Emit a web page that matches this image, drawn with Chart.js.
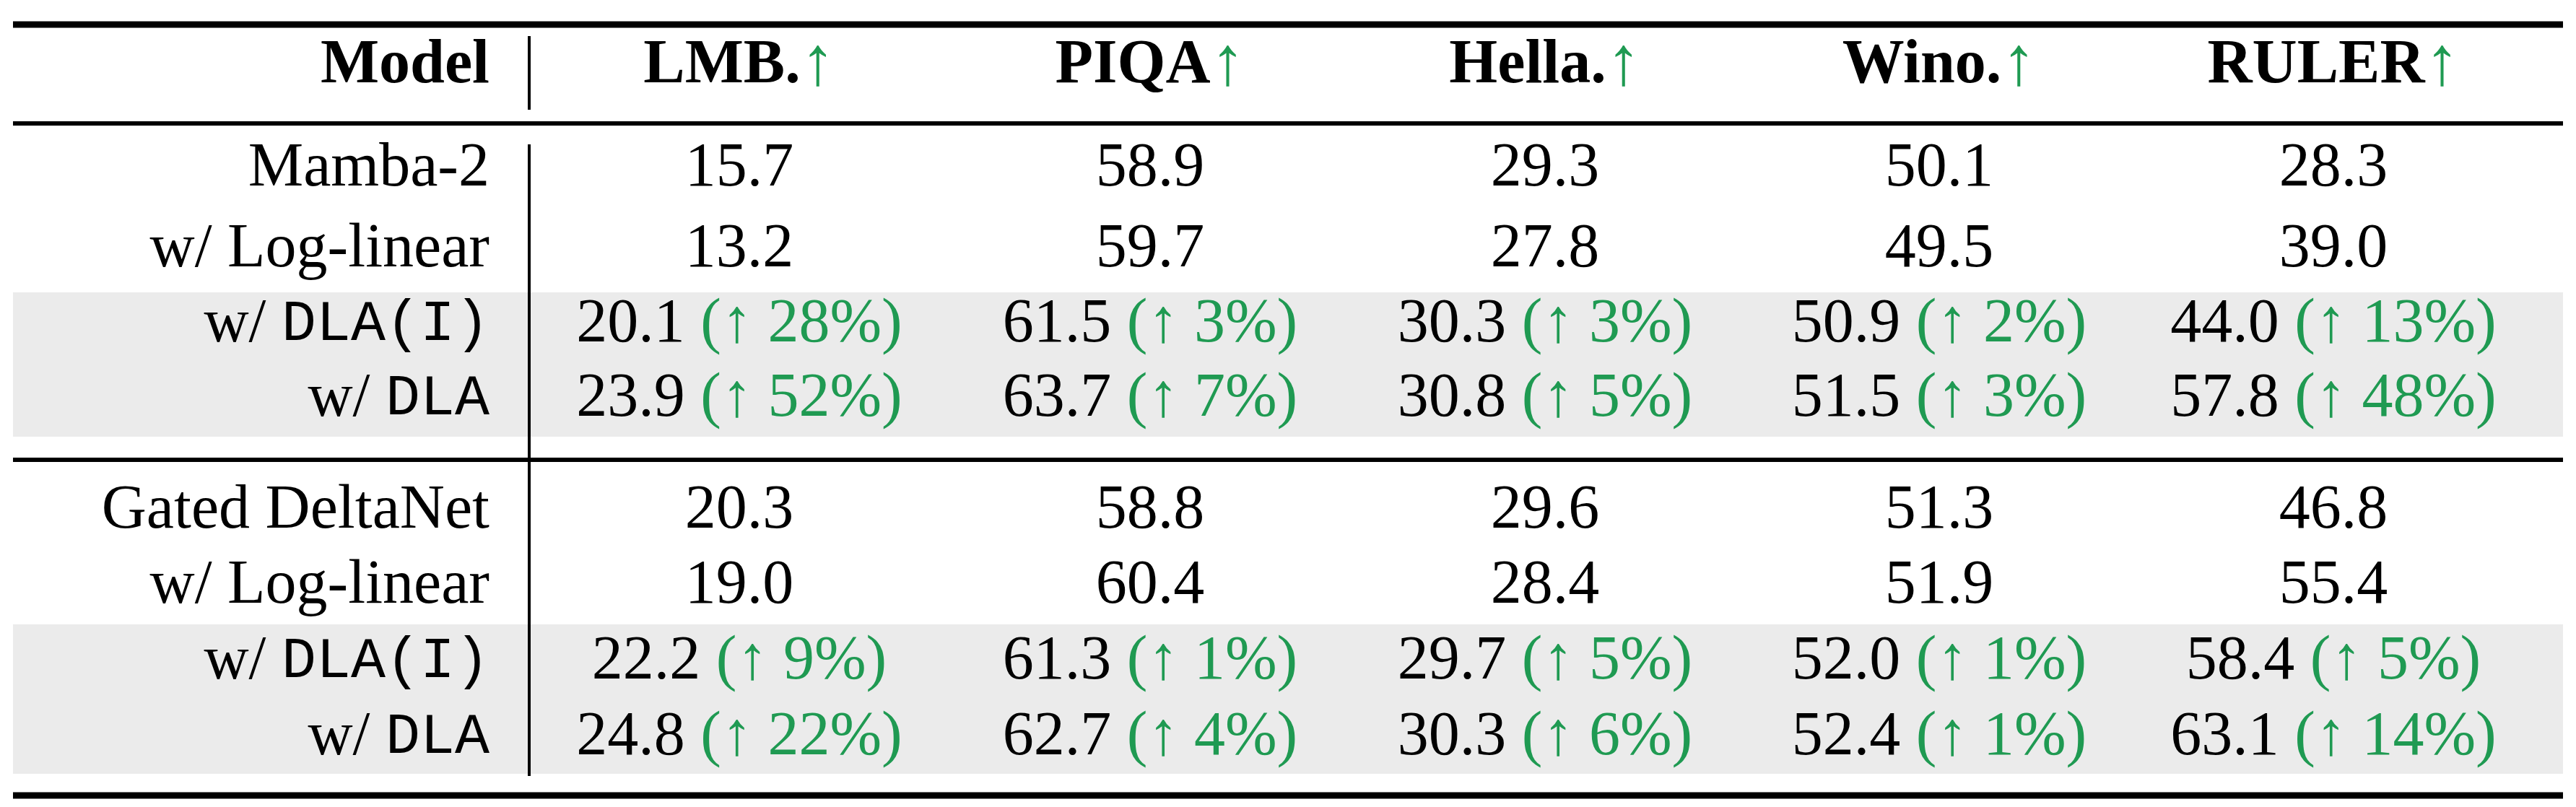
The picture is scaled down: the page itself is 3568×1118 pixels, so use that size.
<!DOCTYPE html>
<html>
<head>
<meta charset="utf-8">
<script src="https://cdn.jsdelivr.net/npm/chart.js@4.4.1/dist/chart.umd.min.js"></script>
<style>
  html, body { margin: 0; padding: 0; background: #fff; }
  #wrap { width: 3568px; height: 1118px; }
</style>
</head>
<body>
<div id="wrap"><canvas id="table"></canvas></div>
<script>
// --- data ---
const columns = ['LMB.', 'PIQA', 'Hella.', 'Wino.', 'RULER'];
const models1 = ['Mamba-2', 'w/ Log-linear', 'w/ DLA(I)', 'w/ DLA'];
const models2 = ['Gated DeltaNet', 'w/ Log-linear', 'w/ DLA(I)', 'w/ DLA'];
const mamba = [15.7, 58.9, 29.3, 50.1, 28.3];
const mambaLog = [13.2, 59.7, 27.8, 49.5, 39.0];
const mambaDlaI = [20.1, 61.5, 30.3, 50.9, 44.0];
const mambaDla = [23.9, 63.7, 30.8, 51.5, 57.8];
const mambaDlaIGain = [28, 3, 3, 2, 13];
const mambaDlaGain = [52, 7, 5, 3, 48];
const gdn = [20.3, 58.8, 29.6, 51.3, 46.8];
const gdnLog = [19.0, 60.4, 28.4, 51.9, 55.4];
const gdnDlaI = [22.2, 61.3, 29.7, 52.0, 58.4];
const gdnDla = [24.8, 62.7, 30.3, 52.4, 63.1];
const gdnDlaIGain = [9, 1, 5, 1, 5];
const gdnDlaGain = [22, 4, 6, 1, 14];

// --- layout (scale units) ---
const colX = [1024, 1593, 2140, 2686, 3232];
const modelRight = 678;
const sepX = 733;
const headerY = 92;
const rowY = [234, 346, 450, 553, 708, 812, 917, 1022];
const bands = [[405, 605], [865, 1072]];
const rules = [[34, 9], [171, 6], [637, 6], [1102, 9]];
const GREEN = '#1f9a52';
const SERIF = '"Liberation Serif", "DejaVu Serif", serif';
const MONO = '"Liberation Mono", "DejaVu Sans Mono", monospace';
const FS = 86;

const rows = [
  { model: models1[0], vals: mamba },
  { model: models1[1], vals: mambaLog },
  { model: models1[2], vals: mambaDlaI, gain: mambaDlaIGain, band: true },
  { model: models1[3], vals: mambaDla, gain: mambaDlaGain, band: true },
  { model: models2[0], vals: gdn },
  { model: models2[1], vals: gdnLog },
  { model: models2[2], vals: gdnDlaI, gain: gdnDlaIGain, band: true },
  { model: models2[3], vals: gdnDla, gain: gdnDlaGain, band: true }
];

function drawRuns(ctx, runs, x, y, align) {
  let w = 0;
  runs.forEach(r => { ctx.font = r.font; w += ctx.measureText(r.text).width; });
  let cx = align === 'right' ? x - w : x - w / 2;
  ctx.textAlign = 'left';
  ctx.textBaseline = 'middle';
  runs.forEach(r => {
    ctx.font = r.font;
    ctx.fillStyle = r.color || '#000';
    ctx.fillText(r.text, cx, y);
    cx += ctx.measureText(r.text).width;
  });
}

function modelRuns(name) {
  const f = FS + 'px ' + SERIF;
  if (name.startsWith('w/ DLA')) {
    return [{ text: 'w/ ', font: f }, { text: name.slice(3), font: (FS - 6) + 'px ' + MONO }];
  }
  return [{ text: name, font: f }];
}

const tablePlugin = {
  id: 'tablePlugin',
  afterDraw(chart) {
    const ctx = chart.ctx;
    const sx = chart.scales.x, sy = chart.scales.y;
    const X = v => sx.getPixelForValue(v);
    const Y = v => sy.getPixelForValue(v);
    ctx.save();
    // grey bands
    ctx.fillStyle = '#ebebeb';
    bands.forEach(b => ctx.fillRect(X(18), Y(b[0]), X(3550) - X(18), Y(b[1]) - Y(b[0])));
    // horizontal rules
    ctx.fillStyle = '#000';
    rules.forEach(r => ctx.fillRect(X(18), Y(r[0]) - r[1] / 2, X(3550) - X(18), r[1]));
    // vertical separator
    ctx.fillRect(X(sepX) - 2, Y(50), 4, Y(152) - Y(50));
    ctx.fillRect(X(sepX) - 2, Y(200), 4, Y(1075) - Y(200));
    // header
    const bold = 'bold ' + FS + 'px ' + SERIF;
    drawRuns(ctx, [{ text: 'Model', font: bold }], X(modelRight), Y(headerY), 'right');
    columns.forEach((c, i) => {
      drawRuns(ctx, [{ text: c, font: bold }, { text: '↑', font: (FS + 10) + 'px ' + SERIF, color: GREEN }], X(colX[i]), Y(headerY), 'center');
    });
    // body
    const f = FS + 'px ' + SERIF;
    rows.forEach((row, ri) => {
      const y = Y(rowY[ri]);
      drawRuns(ctx, modelRuns(row.model), X(modelRight), y, 'right');
      row.vals.forEach((v, ci) => {
        const runs = [{ text: v.toFixed(1), font: f }];
        if (row.gain) {
          runs.push({ text: ' (↑ ' + row.gain[ci] + '%)', font: f, color: GREEN });
        }
        drawRuns(ctx, runs, X(colX[ci]), y, 'center');
      });
    });
    ctx.restore();
  }
};

new Chart(document.getElementById('table'), {
  type: 'scatter',
  data: { datasets: [{ data: [] }] },
  options: {
    responsive: true,
    maintainAspectRatio: false,
    animation: false,
    layout: { padding: 0 },
    plugins: { legend: { display: false }, tooltip: { enabled: false } },
    scales: {
      x: { type: 'linear', min: 0, max: 3568, display: false },
      y: { type: 'linear', min: 0, max: 1118, reverse: true, display: false }
    }
  },
  plugins: [tablePlugin]
});
</script>
</body>
</html>
